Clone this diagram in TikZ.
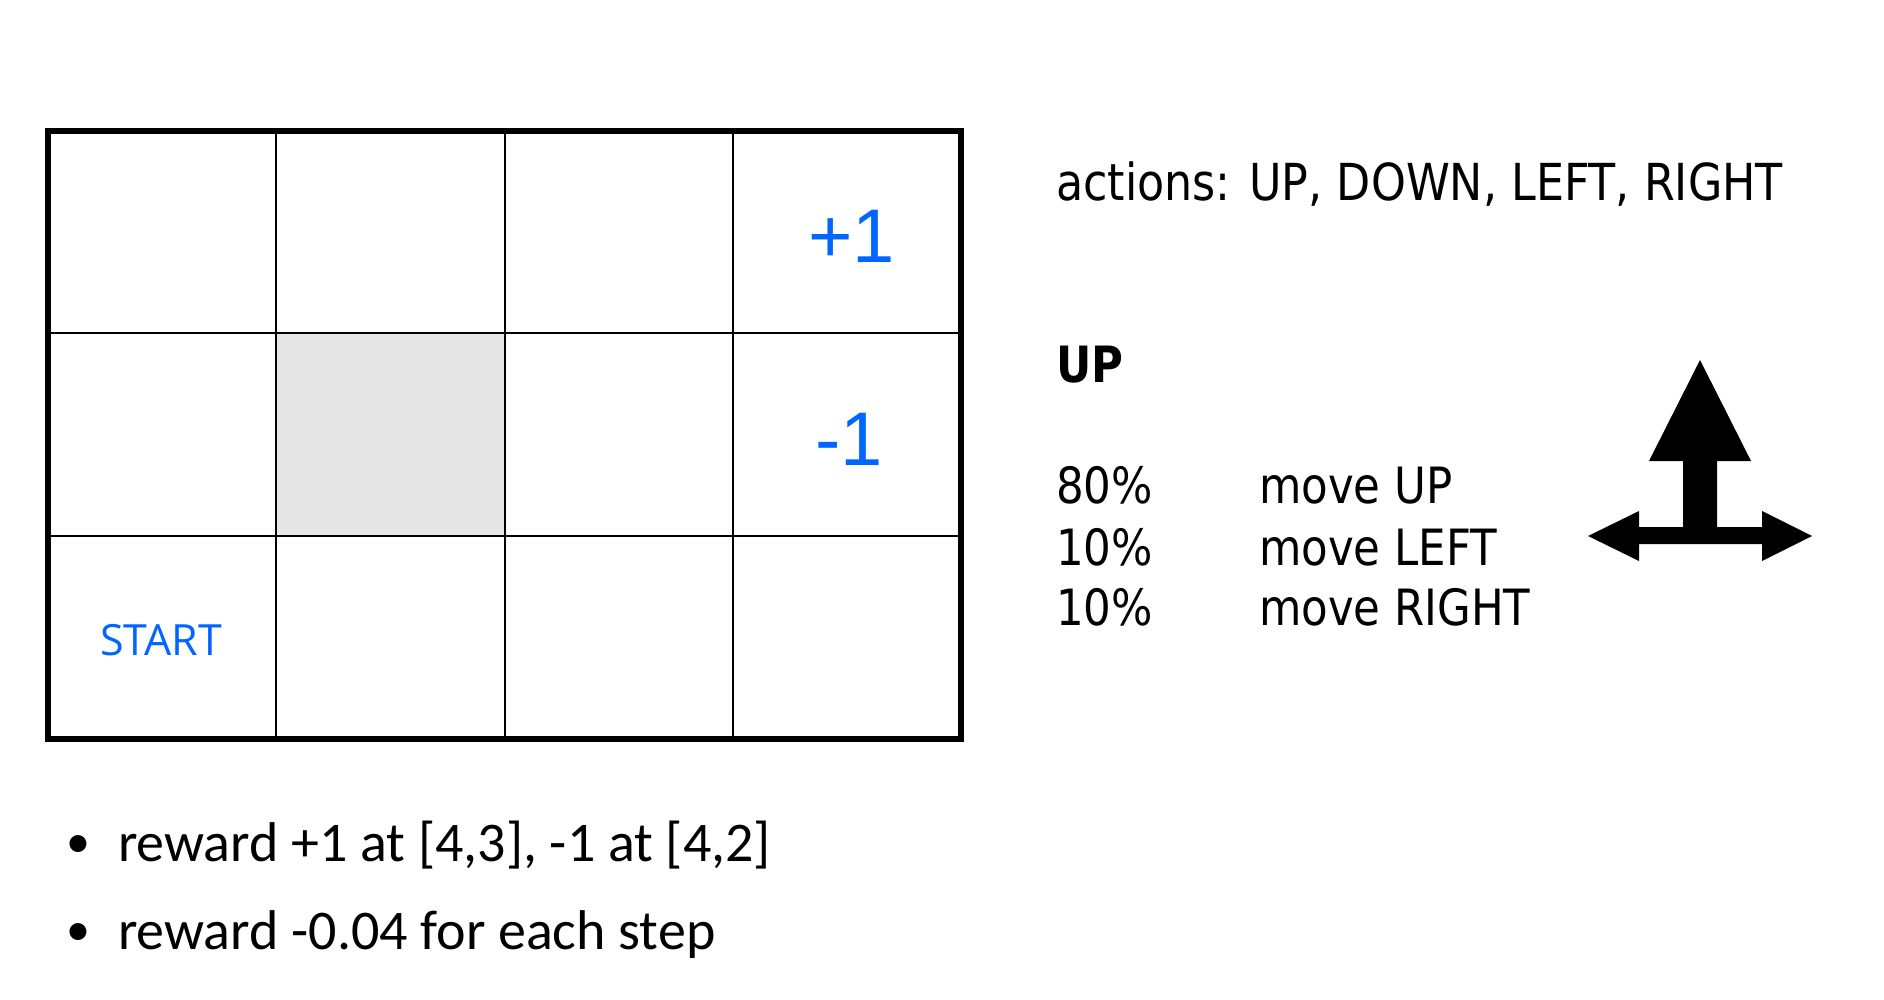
\documentclass[tikz,border=0pt]{standalone}
\usepackage{fontspec}
\setmainfont{Carlito}
\newfontfamily\rtfont[FakeStretch=0.87]{DejaVu Sans}
\newfontfamily\gridfont{Liberation Sans}
\newfontfamily\startfont{Open Sans}
\definecolor{rewardblue}{HTML}{0066FF}
\definecolor{wallgray}{HTML}{E6E6E6}
\begin{document}
\begin{tikzpicture}[x=1pt,y=-1pt,
  txt/.style={inner sep=0pt, outer sep=0pt, anchor=base west},
  rtxt/.style={txt, font=\rtfont\fontsize{50}{60}\selectfont},
  bluetxt/.style={txt, text=rewardblue},
  thinline/.style={line width=2.5pt, black},
  thickline/.style={line width=6pt, black}]
\useasboundingbox (0,0) rectangle (1884,1000);
\fill[white] (0,0) rectangle (1884,1000);
% wall cell
\fill[wallgray] (276,333) rectangle (505,536);
% inner grid lines
\foreach \x in {276,505,733} \draw[thinline] (\x,131) -- (\x,739);
\foreach \y in {333,536} \draw[thinline] (48,\y) -- (961,\y);
% outer border
\draw[thickline] (48,131) rectangle (961,739);
% grid labels
\node[bluetxt, font=\gridfont\fontsize{76}{86}\selectfont] (plus) at (808,262) {+1};
\node[bluetxt, font=\gridfont\fontsize{76}{86}\selectfont] (minus) at (815,465) {-1};
\node[bluetxt, font=\startfont\fontsize{43}{50}\selectfont] (start) at (100,655) {START};
% right text
\node[txt, font=\rtfont\fontsize{51}{60}\selectfont] (actions) at (1056,201) {actions: UP, DOWN, LEFT, RIGHT};
\node[txt, font=\rtfont\bfseries\fontsize{50}{60}\selectfont] (up) at (1056,382) {UP};
\node[rtxt] (p1) at (1056,503) {80\%};
\node[rtxt] (p2) at (1056,565) {10\%};
\node[rtxt] (p3) at (1056,625) {10\%};
\node[rtxt] (m1) at (1259,503) {move UP};
\node[rtxt] (m2) at (1259,565) {move LEFT};
\node[rtxt] (m3) at (1259,625) {move RIGHT};
% arrow symbol
\fill[black] (1700,360) -- (1751,461) -- (1717,461) -- (1717,527) -- (1762,527)
  -- (1762,511) -- (1812,536) -- (1762,561) -- (1762,544) -- (1639,544)
  -- (1639,561) -- (1588,536) -- (1639,511) -- (1639,527) -- (1683,527)
  -- (1683,461) -- (1649,461) -- cycle;
% bullets
\node[txt, font=\fontsize{48}{56}\selectfont] (b1) at (66,857) {\textbullet};
\node[txt, font=\fontsize{56}{66}\selectfont] (r1) at (118,861) {reward +1 at [4,3], -1 at [4,2]};
\node[txt, font=\fontsize{48}{56}\selectfont] (b2) at (66,945) {\textbullet};
\node[txt, font=\fontsize{56}{66}\selectfont] (r2) at (118,949) {reward -0.04 for each step};
\end{tikzpicture}
\end{document}
